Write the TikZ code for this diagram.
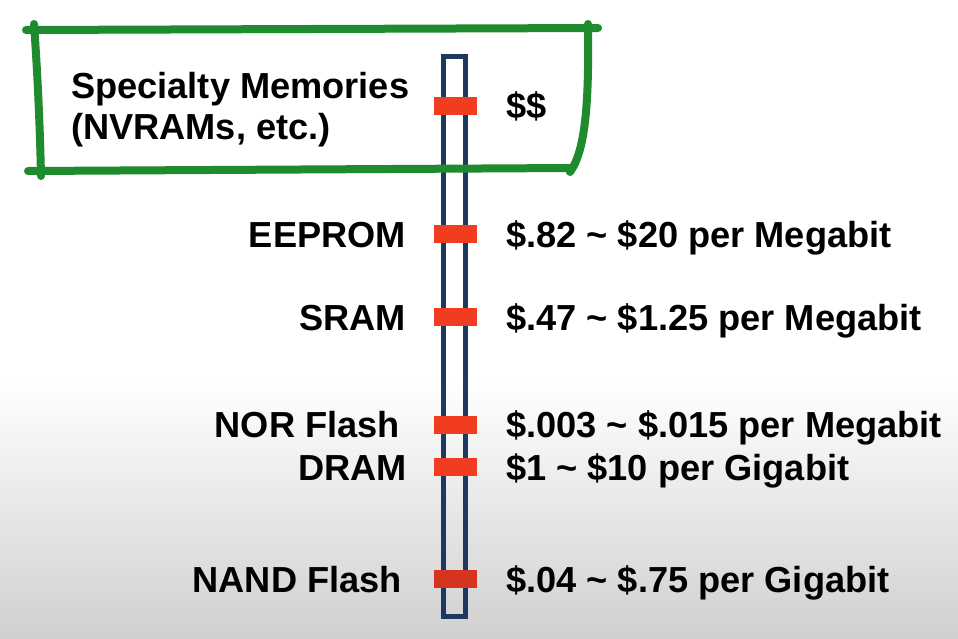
\documentclass[tikz,border=0pt]{standalone}
\usepackage{fontspec}
\setmainfont{Liberation Sans}
\definecolor{barnavy}{RGB}{31,56,96}
\definecolor{tickred}{RGB}{242,60,32}
\definecolor{tickdark}{RGB}{214,52,30}
\definecolor{markgreen}{RGB}{30,140,46}
\definecolor{floorgray}{RGB}{208,208,208}
\begin{document}
\begin{tikzpicture}[x=1pt,y=-1pt,
  txt/.style={inner sep=0pt,font=\fontsize{36.2}{38}\selectfont\bfseries,text=black},
  lbl/.style={txt,anchor=base east},
  price/.style={txt,anchor=base west},
  tick/.style={rectangle,fill=tickred,minimum width=43pt,minimum height=18pt,inner sep=0pt},
  scalebar/.style={rectangle,draw=barnavy,line width=5pt,minimum width=22pt,minimum height=560pt,inner sep=0pt},
  marker/.style={draw=markgreen,line width=8pt,line cap=round,line join=round}]
\useasboundingbox (0,0) rectangle (958,638);
% page background with a soft grey floor
\fill[white] (0,0) rectangle (958,638);
\shade[top color=white,bottom color=floorgray] (0,380) rectangle (958,638);

% vertical cost scale
\node[scalebar] (bar) at (454.5,336.5) {};

% tick marks
\node[tick] (t0) at (455.5,105.5) {};
\node[tick] (t1) at (455.5,234) {};
\node[tick] (t2) at (455.5,317) {};
\node[tick] (t3) at (455.5,424.5) {};
\node[tick] (t4) at (455.5,467) {};
\node[tick,fill=tickdark] (t5) at (455.5,579) {};

% memory types
\node[txt,anchor=base west] (spec1) at (71,98) {Specialty Memories};
\node[txt,anchor=base west] (spec2) at (71,139) {(NVRAMs, etc.)};
\node[lbl] (eeprom) at (406,247) {EEPROM};
\node[lbl] (sram) at (406,330) {SRAM};
\node[lbl] (nor) at (400,437) {NOR Flash};
\node[lbl] (dram) at (407,480) {DRAM};
\node[lbl] (nand) at (402,592) {NAND Flash};

% prices
\node[price] (p0) at (506,118) {\$\$};
\node[price] (p1) at (506,247) {\$.82 \char`~{} \$20 per Megabit};
\node[price] (p2) at (506,330) {\$.47 \char`~{} \$1.25 per Megabit};
\node[price] (p3) at (506,437) {\$.003 \char`~{} \$.015 per Megabit};
\node[price] (p4) at (506,480) {\$1 \char`~{} \$10 per Gigabit};
\node[price] (p5) at (506,592) {\$.04 \char`~{} \$.75 per Gigabit};

% hand-drawn highlight around the specialty memories
\draw[marker] (26,30) -- (598,28);
\draw[marker] (34,24) .. controls (38,80) and (40,130) .. (41,176);
\draw[marker] (28,171) -- (571,168);
\draw[marker] (588,24) .. controls (589,100) and (586,150) .. (570,172);
\end{tikzpicture}
\end{document}
